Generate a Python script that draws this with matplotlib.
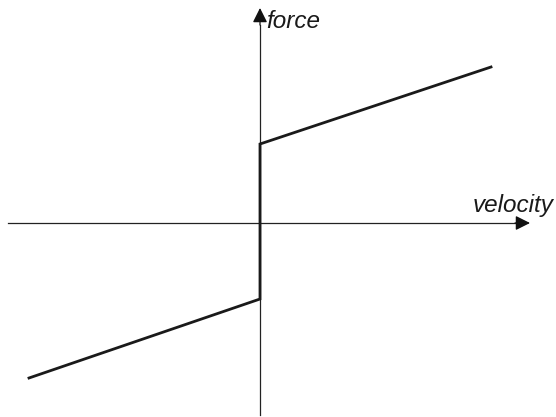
import numpy as np
from matplotlib import pyplot as plt

# velocity / force curve (origin at axis crossing)
velocity = [-231, 0, 0, 231]
force = [-155, -76, 79, 156]

# axis extents
x_axis = [-252, 255]
y_axis = [-192, 198]

fig = plt.figure(figsize=(5.56, 4.17), dpi=100)
ax = fig.add_axes([0, 0, 1, 1])
ax.set_xlim(-260, 296)
ax.set_ylim(-194, 223)
ax.axis('off')

ax.plot(x_axis, [0, 0], color='#222222', lw=0.9)
ax.plot([0, 0], y_axis, color='#222222', lw=0.9)
ax.annotate('', xy=(270, 0), xytext=(x_axis[1], 0),
            arrowprops=dict(arrowstyle='-|>', color='#111111', lw=0.9,
                            mutation_scale=22, shrinkA=0, shrinkB=0))
ax.annotate('', xy=(0, 215), xytext=(0, y_axis[1]),
            arrowprops=dict(arrowstyle='-|>', color='#111111', lw=0.9,
                            mutation_scale=22, shrinkA=0, shrinkB=0))

ax.plot(velocity, force, color='#1a1a1a', lw=2.0, solid_joinstyle='miter')

ax.text(6, 195, 'force', fontstyle='italic', family='Liberation Sans',
        fontsize=17.5, va='baseline', ha='left', color='#1a1a1a')
ax.text(294, 11, 'velocity', fontstyle='italic', family='Liberation Sans',
        fontsize=17.5, va='baseline', ha='right', color='#1a1a1a')

plt.savefig('out.png', dpi=100)
